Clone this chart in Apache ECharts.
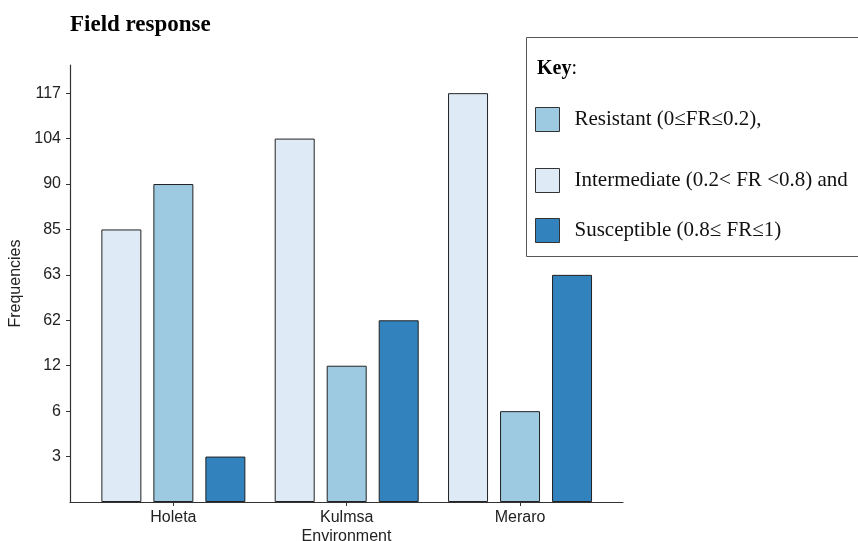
<!DOCTYPE html>
<html>
<head>
<meta charset="utf-8">
<script src="https://cdn.jsdelivr.net/npm/echarts@6/dist/echarts.min.js"></script>
<style>html,body{margin:0;padding:0;background:#fff;}#c{width:858px;height:541px;}</style>
</head>
<body>
<div id="c"></div>
<script>
const environments = ['Holeta', 'Kulmsa', 'Meraro'];
const yTickLabels = [3, 6, 12, 62, 63, 85, 90, 104, 117];
const intermediate = [85, 104, 117];
const resistant = [90, 12, 6];
const susceptible = [3, 62, 63];
const seriesNames = {
  resistant: 'Resistant (0≤FR≤0.2),',
  intermediate: 'Intermediate (0.2< FR <0.8) and',
  susceptible: 'Susceptible (0.8≤ FR≤1)'
};
const colors = { intermediate: '#deebf7', resistant: '#9ecae1', susceptible: '#3182bd' };

// ordinal position of a value on the (ordinal) frequency axis
const pos = v => yTickLabels.indexOf(v) + 1;
const tickPositions = yTickLabels.map((v, i) => i + 1);

const chart = echarts.init(document.getElementById('c'), null, { renderer: 'canvas' });
const sans = 'Liberation Sans, Arial, sans-serif';
const serif = 'Liberation Serif, Times New Roman, serif';
const YMAX = 9.62;

function bar(key, data) {
  return {
    type: 'bar', name: seriesNames[key], xAxisIndex: 1, yAxisIndex: 1,
    data: data.map(pos), barWidth: 40, barGap: '30%',
    itemStyle: { color: colors[key], borderColor: '#222', borderWidth: 1 },
    emphasis: { disabled: true }
  };
}
function legend(key, top, shift) {
  return {
    data: [seriesNames[key]], left: 530, top: top, padding: 5,
    icon: 'rect', itemWidth: 24, itemHeight: 24, itemGap: 16,
    itemStyle: { borderColor: '#333', borderWidth: 1 },
    textStyle: { fontFamily: serif, fontSize: 21, color: '#111', padding: [0, 0, shift, 10] },
    selectedMode: false
  };
}

chart.setOption({
  animation: false,
  title: {
    text: 'Field response', left: 65, top: 9,
    textStyle: { fontFamily: serif, fontSize: 23, fontWeight: 'bold', color: '#000' }
  },
  legend: [legend('resistant', 102, 2), legend('intermediate', 163, 12), legend('susceptible', 213, 8)],
  graphic: [
    { type: 'rect', shape: { x: 526.5, y: 37.5, width: 340, height: 219 }, style: { fill: 'none', stroke: '#555', lineWidth: 1 }, z: 0 },
    { type: 'text', x: 537, y: 69, style: { text: '{b|Key}{n|:}', verticalAlign: 'middle', rich: {
      b: { fontFamily: serif, fontSize: 20, fontWeight: 'bold', fill: '#000' },
      n: { fontFamily: serif, fontSize: 20, fill: '#000' } } } }
  ],
  grid: [
    { left: 70, right: 235, top: 65, bottom: 39, outerBoundsMode: 'none', containLabel: false },
    { left: 86.7, right: 251.3, top: 65, bottom: 39, outerBoundsMode: 'none', containLabel: false }
  ],
  xAxis: [
    { gridIndex: 0, type: 'value', min: 0, max: 1, axisLine: { show: true, lineStyle: { color: '#333', width: 1.2 } },
      axisTick: { show: false }, axisLabel: { show: false }, splitLine: { show: false },
      name: 'Environment', nameLocation: 'middle', nameGap: 27,
      nameTextStyle: { fontFamily: sans, fontSize: 16, color: '#222' } },
    { gridIndex: 1, type: 'category', data: environments, axisLine: { show: false },
      axisTick: { show: true, alignWithLabel: true, length: 4, lineStyle: { color: '#333' } },
      axisLabel: { fontFamily: sans, fontSize: 16, color: '#222', margin: 8 } }
  ],
  yAxis: [
    { gridIndex: 0, type: 'value', min: 0, max: YMAX,
      axisLine: { show: true, lineStyle: { color: '#333', width: 1.2 } },
      axisTick: { show: true, length: 4, customValues: tickPositions, lineStyle: { color: '#333' } },
      axisLabel: { fontFamily: sans, fontSize: 16, color: '#222', margin: 9, customValues: tickPositions,
        formatter: v => { const i = Math.round(v) - 1; return (i >= 0 && i < yTickLabels.length) ? String(yTickLabels[i]) : ''; } },
      splitLine: { show: false },
      name: 'Frequencies', nameLocation: 'middle', nameGap: 42,
      nameTextStyle: { fontFamily: sans, fontSize: 16, color: '#222' } },
    { gridIndex: 1, type: 'value', min: 0, max: YMAX, show: false, splitLine: { show: false } }
  ],
  series: [
    bar('intermediate', intermediate),
    bar('resistant', resistant),
    bar('susceptible', susceptible)
  ]
});
</script>
</body>
</html>
